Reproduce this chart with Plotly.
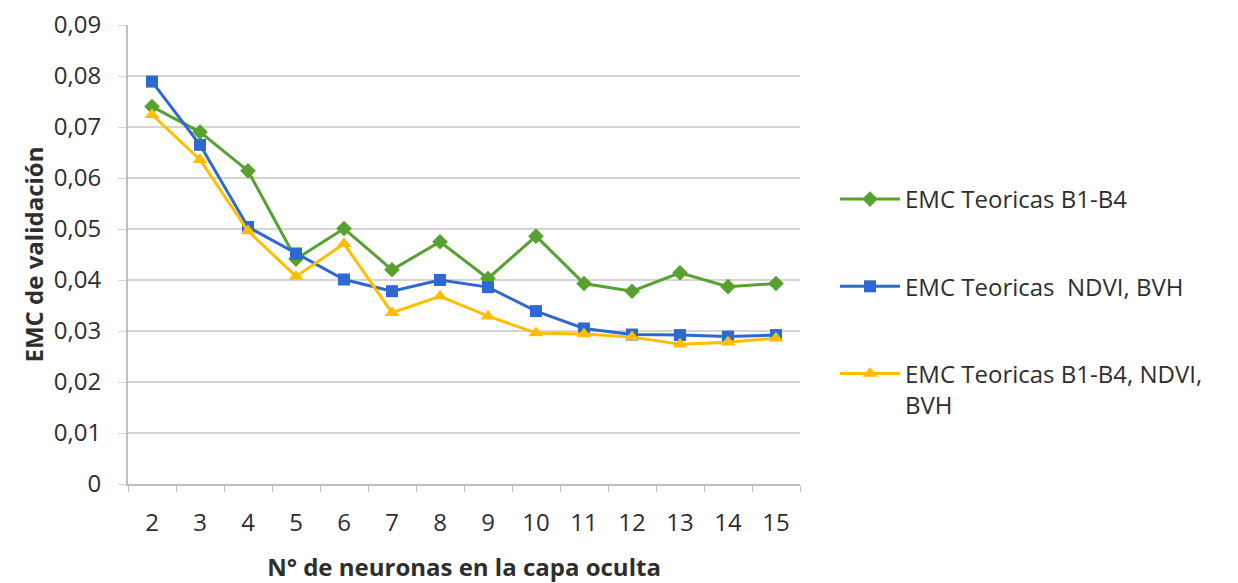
import plotly.graph_objects as go

# Number of neurons in the hidden layer
neuronas = ["2", "3", "4", "5", "6", "7", "8", "9", "10", "11", "12", "13", "14", "15"]

# Validation MSE for each input configuration
emc_b1_b4 = [0.0740, 0.0690, 0.0614, 0.0441, 0.0501, 0.0420, 0.0475, 0.0403,
             0.0486, 0.0393, 0.0378, 0.0414, 0.0387, 0.0393]
emc_ndvi_bvh = [0.0789, 0.0665, 0.0504, 0.0452, 0.0401, 0.0378, 0.0400, 0.0386,
                0.0339, 0.0305, 0.0293, 0.0292, 0.0289, 0.0292]
emc_b1_b4_ndvi_bvh = [0.0724, 0.0636, 0.0496, 0.0407, 0.0471, 0.0336, 0.0368, 0.0329,
                      0.0296, 0.0294, 0.0288, 0.0274, 0.0278, 0.0286]

y_ticks = [0, 0.01, 0.02, 0.03, 0.04, 0.05, 0.06, 0.07, 0.08, 0.09]
y_tick_text = ["0", "0,01", "0,02", "0,03", "0,04", "0,05", "0,06", "0,07", "0,08", "0,09"]

FONT = "Open Sans"
TXT = "#2e2e2e"
FS = 24

fig = go.Figure()

fig.add_trace(go.Scatter(
    x=neuronas, y=emc_b1_b4, name="EMC Teoricas B1-B4", legendgroup="a",
    mode="lines+markers",
    line=dict(color="#56a12f", width=3),
    marker=dict(symbol="diamond", size=12, color="#56a12f"),
))
fig.add_trace(go.Scatter(
    x=neuronas, y=emc_ndvi_bvh, name="EMC Teoricas  NDVI, BVH", legendgroup="b",
    mode="lines+markers",
    line=dict(color="#2f68cf", width=3),
    marker=dict(symbol="square", size=12, color="#2f68cf"),
))
fig.add_trace(go.Scatter(
    x=neuronas, y=emc_b1_b4_ndvi_bvh, name="EMC Teoricas B1-B4, NDVI,<br>BVH", legendgroup="c",
    mode="lines+markers",
    line=dict(color="#ffbf00", width=3),
    marker=dict(symbol="triangle-up", size=13, color="#ffbf00"),
))

fig.update_layout(
    width=1238, height=583,
    margin=dict(l=128, r=438, t=25, b=99),
    paper_bgcolor="white", plot_bgcolor="white",
    font=dict(family=FONT, size=FS, color=TXT),
    showlegend=True,
    legend=dict(
        x=835 / 1238, xref="container", xanchor="left",
        y=1 - 177 / 583, yref="container", yanchor="top",
        font=dict(family=FONT, size=FS, color=TXT),
        itemwidth=60, tracegroupgap=53, valign="top",
        bgcolor="rgba(0,0,0,0)",
    ),
    xaxis=dict(
        type="category", range=[-0.5, 13.5], automargin=False,
        showgrid=False, showline=True, linecolor="#bfbfbf", linewidth=2,
        ticks="outside", tickson="boundaries", ticklen=6, tickcolor="#bfbfbf",
        ticklabelstandoff=16,
        tickfont=dict(family=FONT, size=FS, color=TXT),
        title=dict(text="<b>N° de neuronas en la capa oculta</b>",
                   font=dict(family=FONT, size=FS, color=TXT), standoff=23),
    ),
    yaxis=dict(
        range=[0, 0.09], tickvals=y_ticks, ticktext=y_tick_text, automargin=False,
        showgrid=True, gridcolor="#d4d4d4", gridwidth=2,
        showline=True, linecolor="#bfbfbf", linewidth=2,
        ticks="outside", ticklen=8, tickcolor="#d4d4d4",
        ticklabelstandoff=12,
        zeroline=False,
        tickfont=dict(family=FONT, size=FS, color=TXT),
        title=dict(text="<b>EMC de validación</b>",
                   font=dict(family=FONT, size=FS, color=TXT), standoff=3),
    ),
)

fig.write_html("out.html")
